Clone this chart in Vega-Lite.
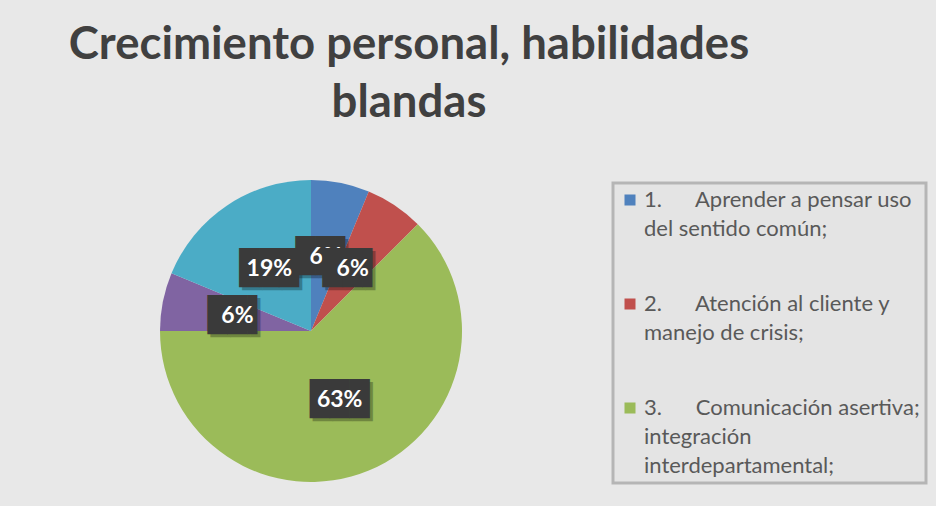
{
  "$schema": "https://vega.github.io/schema/vega-lite/v6.json",
  "autosize": {"type": "none"},
  "width": 302,
  "height": 302,
  "padding": {"left": 160, "top": 180, "right": 474, "bottom": 24},
  "background": "#e8e8e8",
  "config": {
    "view": {"stroke": null},
    "legend": {"strokeWidth": 3},
    "style": {"guide-label": {"lineHeight": 29, "dy": 7}}
  },
  "title": {
    "text": ["Crecimiento personal, habilidades", "blandas"],
    "font": "Lato",
    "fontSize": 45.5,
    "fontWeight": "bold",
    "color": "#404040",
    "lineHeight": 58,
    "anchor": "middle",
    "frame": "group",
    "dx": 98,
    "offset": 54
  },
  "data": {
    "values": [
      {"idx": 1, "category": "1. Aprender a pensar uso del sentido común;", "count": 1},
      {"idx": 2, "category": "2. Atención al cliente y manejo de crisis;", "count": 1},
      {"idx": 3, "category": "3. Comunicación asertiva; integración interdepartamental;", "count": 10},
      {"idx": 4, "category": "4.", "count": 1},
      {"idx": 5, "category": "5.", "count": 3}
    ]
  },
  "transform": [
    {"joinaggregate": [{"op": "sum", "field": "count", "as": "total"}]},
    {"window": [{"op": "sum", "field": "count", "as": "cum"}], "sort": [{"field": "idx", "order": "ascending"}]},
    {"calculate": "datum.cum - datum.count / 2", "as": "mid"},
    {"calculate": "format(datum.count / datum.total, '.0%')", "as": "pct"}
  ],
  "layer": [
    {
      "mark": {"type": "arc"},
      "encoding": {
        "theta": {"field": "count", "type": "quantitative", "stack": true},
        "order": {"field": "idx", "type": "quantitative"},
        "color": {
          "field": "category",
          "type": "nominal",
          "scale": {
            "domain": [
              "1. Aprender a pensar uso del sentido común;",
              "2. Atención al cliente y manejo de crisis;",
              "3. Comunicación asertiva; integración interdepartamental;",
              "4.",
              "5."
            ],
            "range": ["#4f81bd", "#c0504d", "#9bbb59", "#8064a2", "#4bacc6"]
          },
          "legend": {
            "values": [
              "1. Aprender a pensar uso del sentido común;",
              "2. Atención al cliente y manejo de crisis;",
              "3. Comunicación asertiva; integración interdepartamental;"
            ],
            "title": null,
            "orient": "none",
            "legendX": 453,
            "legendY": 3,
            "symbolType": "square",
            "symbolSize": 121,
            "symbolStrokeWidth": 0,
            "symbolOffset": 0,
            "labelFont": "Lato",
            "labelFontSize": 22,
            "labelColor": "#595959",
            "labelLimit": 400,
            "labelOffset": 3,
            "labelBaseline": "alphabetic",
            "rowPadding": 53,
            "padding": 6,
            "strokeColor": "#b5b5b5",
            "fillColor": "#e4e4e4",
            "labelExpr": "datum.label == '1. Aprender a pensar uso del sentido común;' ? ['1.\u00a0\u00a0\u00a0\u00a0\u00a0\u00a0Aprender a pensar uso', 'del sentido común;'] : datum.label == '2. Atención al cliente y manejo de crisis;' ? ['2.\u00a0\u00a0\u00a0\u00a0\u00a0\u00a0Atención al cliente y', 'manejo de crisis;'] : ['3.\u00a0\u00a0\u00a0\u00a0\u00a0\u00a0Comunicación asertiva;', 'integración', 'interdepartamental;']"
          }
        }
      }
    },
    {
      "mark": {"type": "text", "radius": 75, "font": "DejaVu Sans Mono", "fontSize": 33, "color": "#000000", "opacity": 0.28, "align": "center", "baseline": "middle", "dx": 3, "dy": 3},
      "encoding": {
        "theta": {"field": "mid", "type": "quantitative", "stack": null},
        "text": {"condition": {"test": "length(datum.pct) > 2", "value": "███"}, "value": "██▌"}
      }
    },
    {
      "transform": [{"filter": "datum.idx == 1"}],
      "mark": {"type": "text", "radius": 75, "font": "DejaVu Sans Mono", "fontSize": 33, "color": "#3a3a3a", "align": "center", "baseline": "middle"},
      "encoding": {
        "theta": {"field": "mid", "type": "quantitative", "stack": null},
        "text": {"condition": {"test": "length(datum.pct) > 2", "value": "███"}, "value": "██▌"}
      }
    },
    {
      "transform": [{"filter": "datum.idx == 1"}],
      "mark": {"type": "text", "radius": 75, "font": "Lato", "fontSize": 23, "fontWeight": "bold", "color": "white", "align": "center", "baseline": "middle"},
      "encoding": {
        "theta": {"field": "mid", "type": "quantitative", "stack": null},
        "text": {"field": "pct", "type": "nominal"}
      }
    },
    {
      "transform": [{"filter": "datum.idx > 1"}],
      "mark": {"type": "text", "radius": 75, "font": "DejaVu Sans Mono", "fontSize": 33, "color": "#3a3a3a", "align": "center", "baseline": "middle"},
      "encoding": {
        "theta": {"field": "mid", "type": "quantitative", "stack": null},
        "text": {"condition": {"test": "length(datum.pct) > 2", "value": "███"}, "value": "██▌"}
      }
    },
    {
      "transform": [{"filter": "datum.idx > 1"}],
      "mark": {"type": "text", "radius": 75, "font": "Lato", "fontSize": 23, "fontWeight": "bold", "color": "white", "align": "center", "baseline": "middle"},
      "encoding": {
        "theta": {"field": "mid", "type": "quantitative", "stack": null},
        "text": {"field": "pct", "type": "nominal"}
      }
    }
  ]
}
